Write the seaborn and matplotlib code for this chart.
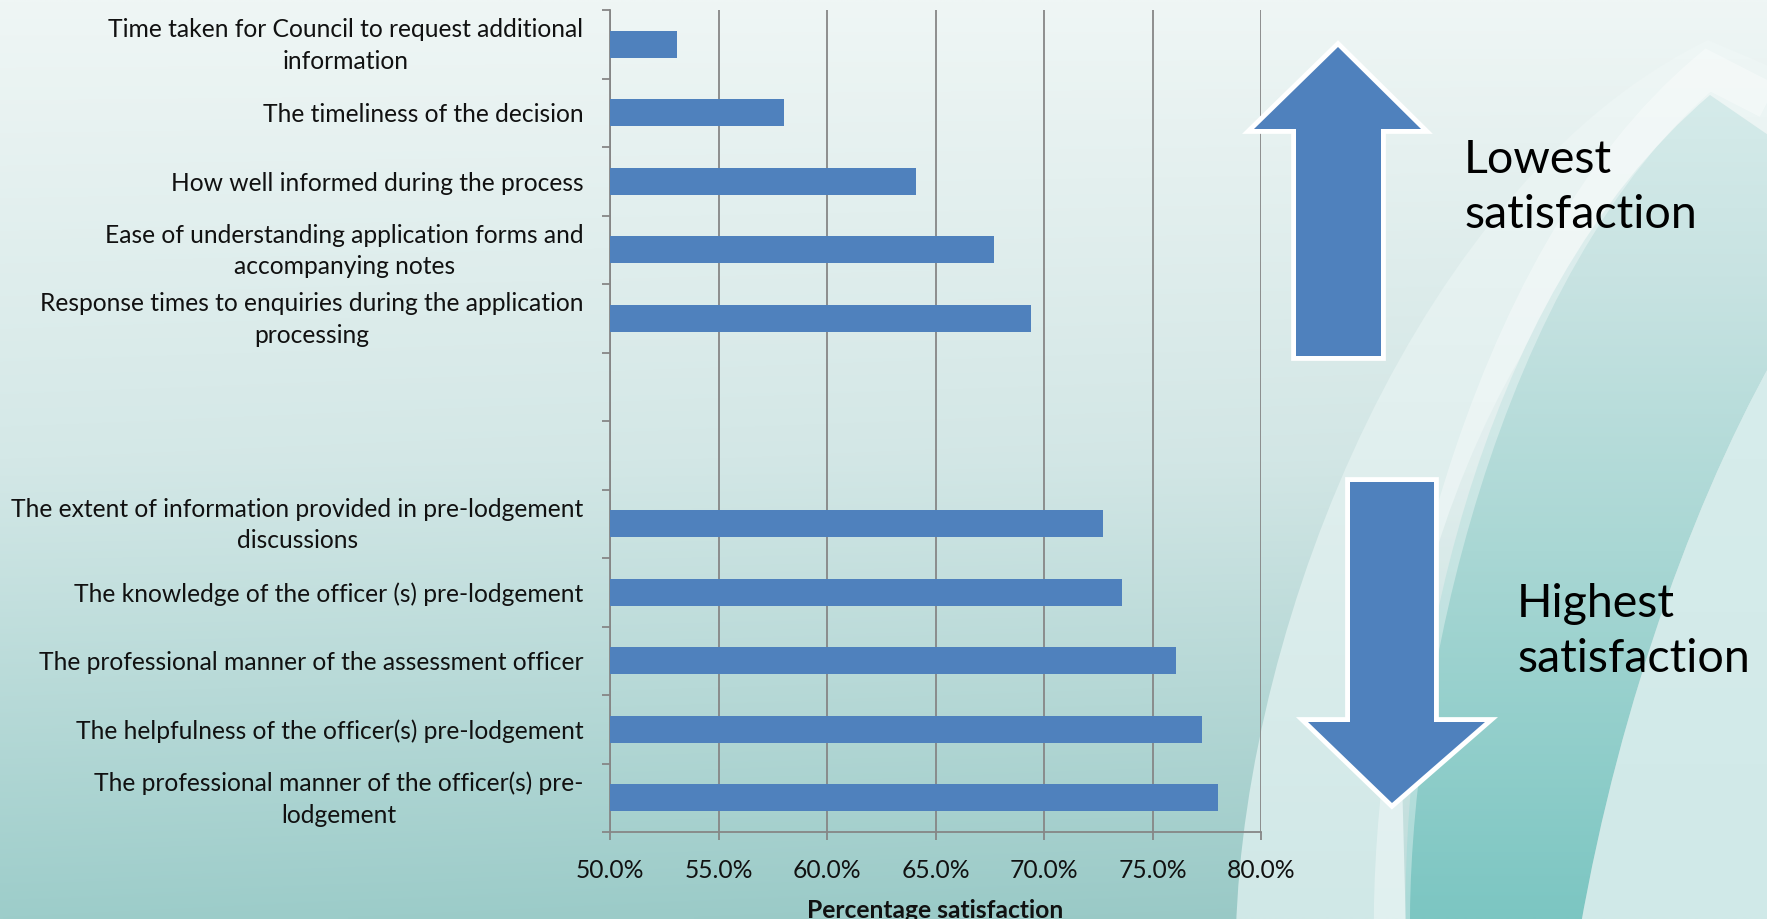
import numpy as np
import pandas as pd
import matplotlib
matplotlib.use("Agg")
import matplotlib.pyplot as plt
import matplotlib.transforms as mtrans
import seaborn as sns
from matplotlib.path import Path
from matplotlib.patches import PathPatch, Polygon
from matplotlib.ticker import PercentFormatter, FixedLocator

# ---------------- data ----------------
low_items = [
    "Time taken for Council to request additional\ninformation",
    "The timeliness of the decision",
    "How well informed during the process",
    "Ease of understanding application forms and\naccompanying notes",
    "Response times to enquiries during the application\nprocessing",
]
low_values = [0.531, 0.580, 0.641, 0.677, 0.694]

high_items = [
    "The extent of information provided in pre-lodgement\ndiscussions",
    "The knowledge of the officer (s) pre-lodgement",
    "The professional manner of the assessment officer",
    "The helpfulness of the officer(s) pre-lodgement",
    "The professional manner of the officer(s) pre-\nlodgement",
]
high_values = [0.727, 0.736, 0.761, 0.773, 0.780]

gap_slots = [" ", "  "]
x_ticks = [0.50, 0.55, 0.60, 0.65, 0.70, 0.75, 0.80]
x_label = "Percentage satisfaction"
note_low = ["Lowest", "satisfaction"]
note_high = ["Highest", "satisfaction"]

df = pd.DataFrame({"item": low_items + high_items,
                   "satisfaction": low_values + high_values})
order = low_items + gap_slots + high_items

# ---------------- style ----------------
plt.rcParams["font.family"] = ["Lato", "DejaVu Sans"]
BLUE = "#4f81bd"
GRID = "#868686"
W, H = 1767, 919
FS = 17.75

fig = plt.figure(figsize=(W / 100, H / 100), dpi=100)

# background layer (pixel coordinates, y down)
bg = fig.add_axes([0, 0, 1, 1], zorder=0)


def hexc(h):
    return np.array([int(h[i:i + 2], 16) for i in (1, 3, 5)]) / 255


def vgrad(stops, n=200):
    """stops: list of (t, hex) pairs, returns n x 1 x 3 array."""
    t = np.linspace(0, 1, n)
    ts = [s[0] for s in stops]
    cs = np.array([hexc(s[1]) for s in stops])
    out = np.stack([np.interp(t, ts, cs[:, k]) for k in range(3)], axis=-1)
    return out[:, None, :]


ny, nx = 200, 300
base = vgrad([(0, "#eff6f5"), (0.5, "#d4e8e7"), (1, "#9dcdca")], ny)
tx = np.linspace(0, 1, nx)[None, :, None]
ty = np.linspace(0, 1, ny)[:, None, None]
img = np.clip(base - 0.02 * tx * ty, 0, 1)
bg.imshow(img, extent=(0, W, H, 0), aspect="auto", interpolation="bilinear", zorder=0)


def grad_fill(verts, codes, stops, z):
    patch = PathPatch(Path(verts, codes), facecolor="none", edgecolor="none")
    bg.add_patch(patch)
    im = bg.imshow(vgrad(stops), extent=(1000, W, H, 0), aspect="auto",
                   interpolation="bilinear", zorder=z)
    im.set_clip_path(patch)


M, C, L, X = Path.MOVETO, Path.CURVE4, Path.LINETO, Path.CLOSEPOLY
# light arch
grad_fill([(1236, 930), (1245, 620), (1420, 180), (1708, 40), (1790, 75),
           (1790, 150), (1710, 95), (1470, 300), (1400, 700), (1406, 930), (1236, 930)],
          [M, C, C, C, L, L, C, C, C, L, X],
          [(0, "#f0f7f6"), (0.5, "#e0efee"), (1, "#d0e8e7")], 1)
# teal band
grad_fill([(1406, 930), (1400, 700), (1470, 300), (1710, 95), (1790, 150),
           (1790, 330), (1700, 480), (1620, 700), (1580, 930), (1406, 930)],
          [M, C, C, C, L, L, C, C, C, X],
          [(0, "#dcefee"), (0.3, "#c8e3e2"), (0.6, "#a9d7d4"), (1, "#7cc6c2")], 1)
# light right region
grad_fill([(1580, 930), (1620, 700), (1700, 480), (1790, 330), (1790, 930), (1580, 930)],
          [M, C, C, C, L, X],
          [(0, "#dcefee"), (1, "#d0e9e8")], 1)
# bright stroke along the top of the band
stroke = Path([(1790, 112), (1708, 70), (1480, 262), (1388, 690), (1392, 940)],
              [M, L, C, C, C])
bg.add_patch(PathPatch(stroke, facecolor="none", edgecolor="white", alpha=0.35,
                       lw=26, capstyle="butt", joinstyle="miter", zorder=2))

bg.set_xlim(0, W)
bg.set_ylim(H, 0)
bg.axis("off")

# ---------------- chart ----------------
ax = fig.add_axes([610 / W, 1 - 832 / H, (1261 - 610) / W, (832 - 10) / H], zorder=2)
ax.patch.set_alpha(0)
sns.barplot(data=df, x="satisfaction", y="item", order=order, orient="h",
            color=BLUE, saturation=1, width=0.4, ax=ax, zorder=3)

ax.set_xlim(0.5, 0.8)
ax.set_ylim(len(order) - 0.5, -0.5)
ax.xaxis.set_major_locator(FixedLocator(x_ticks))
ax.xaxis.set_major_formatter(PercentFormatter(1, decimals=1))
ax.grid(axis="x", color=GRID, lw=1.3)
ax.grid(axis="y", visible=False)
ax.set_axisbelow(True)
for s in ["top", "right"]:
    ax.spines[s].set_visible(False)
for s in ["left", "bottom"]:
    ax.spines[s].set_color(GRID)
    ax.spines[s].set_linewidth(1.3)

ax.set_yticks(range(len(order)))
ax.set_yticklabels(order)
ax.yaxis.set_minor_locator(FixedLocator(np.arange(-0.5, len(order), 1.0)))
ax.tick_params(axis="y", which="major", length=0, pad=19, labelsize=FS, labelcolor="#111111")
ax.tick_params(axis="y", which="minor", length=6, width=1.3, color=GRID)
ax.tick_params(axis="x", which="major", length=6, width=1.3, color=GRID, pad=13.5,
               labelsize=FS, labelcolor="#111111")

shift_up = mtrans.ScaledTranslation(0, 5 / 100, fig.dpi_scale_trans)
for t in ax.get_yticklabels():
    t.set_multialignment("center")
    t.set_linespacing(1.45)
    if "\n" in t.get_text():
        t.set_transform(t.get_transform() + shift_up)

ax.set_ylabel("")
ax.set_xlabel(x_label, fontsize=FS, fontweight="bold", color="#111111", va="top")
ax.xaxis.set_label_coords(0.5, -0.081)

# ---------------- overlay: arrows and notes ----------------
ov = fig.add_axes([0, 0, 1, 1], zorder=5)
ov.set_xlim(0, W)
ov.set_ylim(H, 0)
ov.axis("off")
ov.patch.set_alpha(0)

up = [(1338, 47), (1421, 129), (1381, 129), (1381, 356), (1296, 356), (1296, 129), (1254, 129)]
down = [(1350, 482), (1434, 482), (1434, 722), (1485, 722), (1392, 803), (1308, 722), (1350, 722)]
for pts in (up, down):
    ov.add_patch(Polygon(pts, closed=True, facecolor="white", edgecolor="white",
                         lw=7, joinstyle="miter", zorder=1))
    ov.add_patch(Polygon(pts, closed=True, facecolor=BLUE, edgecolor="none", zorder=2))

for (x, y), s in zip([(1464, 173), (1464, 228), (1517, 617), (1517, 672)],
                     note_low + note_high):
    ov.text(x, y, s, fontsize=33.5, va="baseline", ha="left", color="black")

fig.savefig("out.png", dpi=100)
